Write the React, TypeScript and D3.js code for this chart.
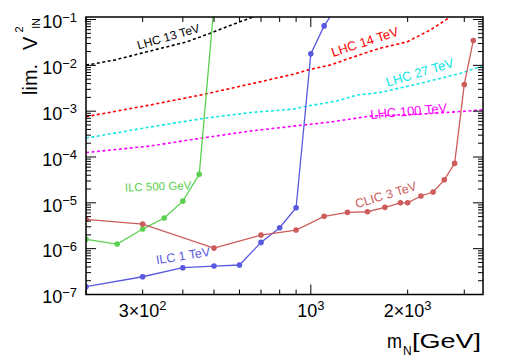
import React from 'react';
import * as d3 from 'd3';

// ---------- data ----------
const ilc500Mass = [200, 250, 300, 350, 400, 450, 500];
const ilc500V = [1.6e-6, 1.26e-6, 2.68e-6, 4.66e-6, 1.09e-5, 4.18e-5, 0.21];

const ilc1Mass = [200, 300, 400, 500, 600, 700, 800, 900, 1000, 1100, 1200];
const ilc1V = [1.48e-7, 2.44e-7, 3.84e-7, 4.18e-7, 4.4e-7, 1.37e-6, 2.86e-6, 7.81e-6, 0.0178, 0.0726, 0.184];

const clicMass = [200, 300, 500, 700, 900, 1100, 1300, 1500, 1700, 1900, 2000, 2200, 2400, 2600, 2800, 3000, 3200];
const clicV = [4.37e-6, 3.44e-6, 1.03e-6, 1.98e-6, 2.55e-6, 5.07e-6, 6.2e-6, 6.39e-6, 7.97e-6, 1.0e-5, 1.0e-5, 1.41e-5, 1.72e-5, 3.18e-5, 7.26e-5, 3.83e-3, 0.0349];

const lhc13Mass = [200, 245, 315, 411, 485, 559, 646, 700];
const lhc13V = [0.0101, 0.013, 0.0204, 0.0325, 0.0497, 0.0734, 0.107, 0.135];

const lhc14Mass = [200, 315, 464, 646, 885, 993, 1146, 1381, 1641, 1991, 2348, 2710, 2900];
const lhc14V = [7.6e-4, 1.355e-3, 2.32e-3, 3.89e-3, 6.43e-3, 8.15e-3, 0.0101, 0.0159, 0.0237, 0.0325, 0.0586, 0.1125, 0.15];

const lhc27Mass = [200, 315, 464, 646, 885, 944, 1202, 1388, 1641, 2186, 2912, 3430];
const lhc27V = [2.59e-4, 4.49e-4, 6.95e-4, 9.3e-4, 1.11e-3, 1.245e-3, 1.66e-3, 2.24e-3, 2.56e-3, 4.03e-3, 6.65e-3, 9.85e-3];

const lhc100Mass = [200, 315, 464, 646, 885, 1146, 1527, 2186, 3040, 3430];
const lhc100V = [1.25e-4, 1.73e-4, 2.62e-4, 3.67e-4, 4.72e-4, 5.77e-4, 7.8e-4, 8.63e-4, 1.0e-3, 1.08e-3];

const xTickValues = [300, 1000, 2000];
const xTickMantissa = ['3×10', '10', '2×10'];
const xTickExp = ['2', '3', '3'];

const yTickValues = [1e-1, 1e-2, 1e-3, 1e-4, 1e-5, 1e-6, 1e-7];
const yTickExp = ['−1', '−2', '−3', '−4', '−5', '−6', '−7'];

// ---------- layout ----------
const W = 508, H = 360;
const L = 86, R = 483, T = 17, B = 294.5;
const FONT = 'Liberation Sans, Arial, Helvetica, sans-serif';

const x = d3.scaleLog().domain([200, 3430]).range([L, R]);
const y = d3.scaleLog().domain([1e-7, 0.1135]).range([B, T]);

const C_GREEN = '#5bd04f';
const C_BLUE = '#5959e0';
const C_CLIC = '#cd5c5c';

function mkLine(ms: number[], vs: number[]) {
  const pts = ms.map((m, i) => [m, vs[i]] as [number, number]);
  return d3.line<[number, number]>().x(d => x(d[0])).y(d => y(d[1]))(pts) || '';
}

function logTicks(lo: number, hi: number, d0: number, d1: number) {
  const out: { v: number; major: boolean }[] = [];
  for (let d = d0; d <= d1 * 1.0001; d *= 10) {
    for (let k = 1; k <= 9; k++) {
      const v = k * d;
      if (v >= lo * 0.9999 && v <= hi * 1.0001) out.push({ v, major: k === 1 });
    }
  }
  return out;
}

export default function App() {
  const xt = logTicks(200, 3430, 100, 1000);
  const yt = logTicks(1e-7, 0.1135, 1e-7, 1e-1);

  const series = [
    { ms: ilc500Mass, vs: ilc500V, c: C_GREEN },
    { ms: ilc1Mass, vs: ilc1V, c: C_BLUE },
    { ms: clicMass, vs: clicV, c: C_CLIC },
  ];
  const lhc = [
    { ms: lhc13Mass, vs: lhc13V, c: '#000000' },
    { ms: lhc14Mass, vs: lhc14V, c: '#ff0000' },
    { ms: lhc27Mass, vs: lhc27V, c: '#10e6e6' },
    { ms: lhc100Mass, vs: lhc100V, c: '#ff00ff' },
  ];

  const labels = [
    { t: 'LHC 13 TeV', x: 138.5, y: 49.5, a: -16, c: '#000000', s: 12 },
    { t: 'LHC 14 TeV', x: 333, y: 57, a: -18, c: '#ff0000', s: 13 },
    { t: 'LHC 27 TeV', x: 387.5, y: 86.7, a: -16.5, c: '#10e6e6', s: 13 },
    { t: 'LHC 100 TeV', x: 370.7, y: 119, a: -5, c: '#ff00ff', s: 13 },
    { t: 'CLIC 3 TeV', x: 356.7, y: 208.3, a: -17, c: C_CLIC, s: 12.5 },
    { t: 'ILC 1 TeV', x: 156.7, y: 264.3, a: -9, c: C_BLUE, s: 12.5 },
    { t: 'ILC 500 GeV', x: 125, y: 191.5, a: -2, c: C_GREEN, s: 11.5 },
  ];

  return (
    <svg width={W} height={H} style={{ position: 'absolute', left: 0, top: 0, background: '#fff' }} fontFamily={FONT}>
      <defs>
        <clipPath id="plot">
          <rect x={L} y={T} width={R - L} height={B - T} />
        </clipPath>
      </defs>
      <rect x={0} y={0} width={W} height={H} fill="#fff" />

      <g clipPath="url(#plot)">
        {lhc.map((s, i) => (
          <path key={'l' + i} d={mkLine(s.ms, s.vs)} fill="none" stroke={s.c} strokeWidth={1.6} strokeDasharray="3,2.5" />
        ))}
        {series.map((s, i) => (
          <g key={'s' + i}>
            <path d={mkLine(s.ms, s.vs)} fill="none" stroke={s.c} strokeWidth={1.3} />
            {s.ms.map((m, j) => (
              <circle key={j} cx={x(m)} cy={y(s.vs[j])} r={2.8} fill={s.c} />
            ))}
          </g>
        ))}
      </g>

      {/* ticks */}
      <g stroke="#000" strokeWidth={1}>
        {xt.map((t, i) => {
          const px = x(t.v);
          const len = t.major ? 10 : 5;
          return (
            <g key={'xt' + i}>
              <line x1={px} x2={px} y1={B} y2={B - len} />
              <line x1={px} x2={px} y1={T} y2={T + len} />
            </g>
          );
        })}
        {yt.map((t, i) => {
          const py = y(t.v);
          const len = t.major ? 10 : 5;
          return (
            <g key={'yt' + i}>
              <line x1={L} x2={L + len} y1={py} y2={py} />
              <line x1={R} x2={R - len} y1={py} y2={py} />
            </g>
          );
        })}
      </g>
      <rect x={L} y={T} width={R - L} height={B - T} fill="none" stroke="#000" strokeWidth={1.5} />

      {/* tick labels */}
      {yTickValues.map((v, i) => (
        <text key={'yl' + i} x={77} y={y(v) + 8.8} textAnchor="end" fontSize={18} fill="#000">
          <tspan>10</tspan>
          <tspan fontSize={13} dy={-6.5}>{yTickExp[i]}</tspan>
        </text>
      ))}
      {xTickValues.map((v, i) => (
        <text key={'xl' + i} x={x(v)} y={316.7} textAnchor="middle" fontSize={18} fill="#000">
          <tspan>{xTickMantissa[i]}</tspan>
          <tspan fontSize={13} dy={-7}>{xTickExp[i]}</tspan>
        </text>
      ))}

      {/* curve labels */}
      {labels.map((l, i) => (
        <text key={'lb' + i} x={l.x} y={l.y} fontSize={l.s} fill={l.c} transform={`rotate(${l.a},${l.x},${l.y})`}>
          {l.t}
        </text>
      ))}

      {/* axis titles */}
      <g transform="translate(37,95) rotate(-90)" fill="#000">
        <text x={0} y={0} fontSize={20}>lim.</text>
        <text x={45} y={0} fontSize={20}>V</text>
        <text x={62.5} y={-14} fontSize={11}>2</text>
        <text x={66.5} y={2.5} fontSize={11}>lN</text>
      </g>
      <g fill="#000">
        <text x={387} y={348} fontSize={21} textLength={15} lengthAdjust="spacingAndGlyphs">m</text>
        <text x={403} y={355} fontSize={12}>N</text>
        <text x={412} y={348} fontSize={21} textLength={69} lengthAdjust="spacingAndGlyphs">[GeV]</text>
      </g>
    </svg>
  );
}
